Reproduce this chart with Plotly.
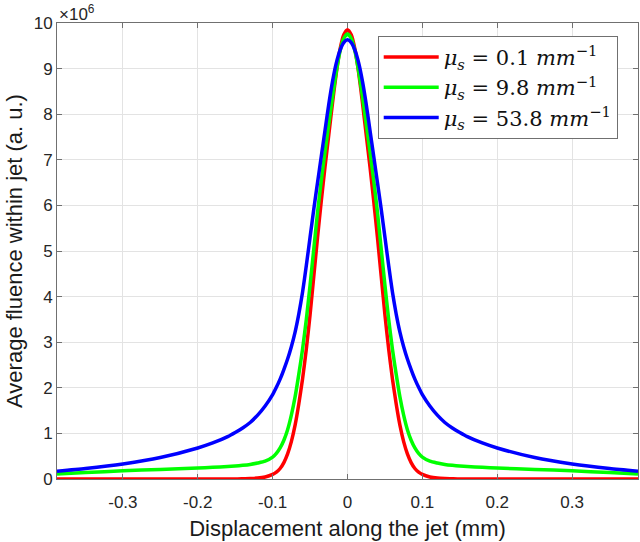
import plotly.graph_objects as go

# Displacement along the jet (mm)
x_mm = [-0.388, -0.35, -0.30, -0.25, -0.20, -0.18, -0.16, -0.15, -0.14, -0.13, -0.12, -0.11,
        -0.100, -0.095, -0.090, -0.085, -0.080, -0.075, -0.070, -0.065, -0.060, -0.055,
        -0.050, -0.045, -0.040, -0.035, -0.030, -0.025, -0.020, -0.015, -0.010, -0.005,
        0.0,
        0.005, 0.010, 0.015, 0.020, 0.025, 0.030, 0.035, 0.040, 0.045, 0.050,
        0.055, 0.060, 0.065, 0.070, 0.075, 0.080, 0.085, 0.090, 0.095, 0.100,
        0.11, 0.12, 0.13, 0.14, 0.15, 0.16, 0.18, 0.20, 0.25, 0.30, 0.35, 0.388]

# Average fluence within jet (x 10^6, a.u.)
fluence_mu01 = [0.0, 0.0, 0.0, 0.0, 0.0, 0.0, 0.0, 0.0, 0.005, 0.01, 0.02, 0.045,
                0.10, 0.15, 0.23, 0.36, 0.55, 0.82, 1.18, 1.65, 2.20, 2.85,
                3.60, 4.45, 5.30, 6.10, 6.85, 7.55, 8.25, 8.90, 9.42, 9.74,
                9.85,
                9.74, 9.42, 8.90, 8.25, 7.55, 6.85, 6.10, 5.30, 4.45, 3.60,
                2.85, 2.20, 1.65, 1.18, 0.82, 0.55, 0.36, 0.23, 0.15, 0.10,
                0.045, 0.02, 0.01, 0.005, 0.0, 0.0, 0.0, 0.0, 0.0, 0.0, 0.0, 0.0]

fluence_mu98 = [0.11, 0.14, 0.18, 0.21, 0.24, 0.255, 0.275, 0.285, 0.30, 0.32, 0.35, 0.39,
                0.48, 0.56, 0.68, 0.85, 1.08, 1.40, 1.80, 2.30, 2.85, 3.50,
                4.25, 5.05, 5.85, 6.55, 7.18, 7.78, 8.38, 8.93, 9.38, 9.66,
                9.76,
                9.66, 9.38, 8.93, 8.38, 7.78, 7.18, 6.55, 5.85, 5.05, 4.25,
                3.50, 2.85, 2.30, 1.80, 1.40, 1.08, 0.85, 0.68, 0.56, 0.48,
                0.39, 0.35, 0.32, 0.30, 0.285, 0.275, 0.255, 0.24, 0.21, 0.18, 0.14, 0.11]

fluence_mu538 = [0.17, 0.23, 0.33, 0.47, 0.68, 0.79, 0.93, 1.02, 1.12, 1.24, 1.40, 1.60,
                 1.85, 2.01, 2.19, 2.40, 2.63, 2.90, 3.22, 3.62, 4.10, 4.68,
                 5.30, 5.92, 6.50, 7.08, 7.65, 8.22, 8.72, 9.12, 9.40, 9.57,
                 9.63,
                 9.57, 9.40, 9.12, 8.72, 8.22, 7.65, 7.08, 6.50, 5.92, 5.30,
                 4.68, 4.10, 3.62, 3.22, 2.90, 2.63, 2.40, 2.19, 2.01, 1.85,
                 1.60, 1.40, 1.24, 1.12, 1.02, 0.93, 0.79, 0.68, 0.47, 0.33, 0.23, 0.17]

series_names = [
    "<i>μ</i><sub><i>s</i></sub>&nbsp;=&nbsp;0.1&nbsp;<i>mm</i><sup>−1</sup>",
    "<i>μ</i><sub><i>s</i></sub>&nbsp;=&nbsp;9.8&nbsp;<i>mm</i><sup>−1</sup>",
    "<i>μ</i><sub><i>s</i></sub>&nbsp;=&nbsp;53.8&nbsp;<i>mm</i><sup>−1</sup>",
]
series_colors = ["#ff0000", "#00ff00", "#0000ff"]
series_values = [fluence_mu01, fluence_mu98, fluence_mu538]

x_ticks = [-0.3, -0.2, -0.1, 0, 0.1, 0.2, 0.3]
x_tick_labels = ["-0.3", "-0.2", "-0.1", "0", "0.1", "0.2", "0.3"]
y_ticks = list(range(0, 11))

fig = go.Figure()
for name, col, vals in zip(series_names, series_colors, series_values):
    fig.add_trace(go.Scatter(
        x=x_mm, y=vals, mode="lines", name=name,
        line=dict(color=col, width=3.5, shape="spline", smoothing=0.6),
    ))

axis_common = dict(
    showgrid=True, gridcolor="#e3e3e3", gridwidth=1,
    showline=True, linecolor="#707070", linewidth=1, mirror="ticks",
    ticks="inside", ticklen=5, tickcolor="#707070",
    zeroline=False,
    tickfont=dict(family="Liberation Sans, Arial", size=17, color="#262626"),
)

fig.update_xaxes(
    range=[-0.388, 0.388], tickvals=x_ticks, ticktext=x_tick_labels,
    ticklabelstandoff=8,
    title=dict(text="Displacement along the jet (mm)",
               font=dict(family="Liberation Sans, Arial", size=22, color="#1a1a1a"),
               standoff=9),
    **axis_common,
)
fig.update_yaxes(
    range=[0, 10], tickvals=y_ticks,
    title=dict(text="Average fluence within jet (a. u.)",
               font=dict(family="Liberation Sans, Arial", size=22, color="#1a1a1a"),
               standoff=4),
    **axis_common,
)

fig.add_annotation(
    text="×10<sup>6</sup>", xref="paper", yref="paper", x=0.0, y=1.0,
    xanchor="left", yanchor="bottom", showarrow=False, xshift=0, yshift=-3,
    font=dict(family="Liberation Sans, Arial", size=17, color="#262626"),
)

fig.update_layout(
    width=640, height=542,
    margin=dict(l=57, r=2, t=23, b=63),
    plot_bgcolor="white", paper_bgcolor="white",
    showlegend=True,
    legend=dict(
        x=0.552, y=0.972, xanchor="left", yanchor="top",
        bgcolor="white", bordercolor="#707070", borderwidth=1,
        font=dict(family="DejaVu Serif", size=21, color="#111111"),
        tracegroupgap=0, itemwidth=55,
    ),
)

fig.write_html("out.html")
